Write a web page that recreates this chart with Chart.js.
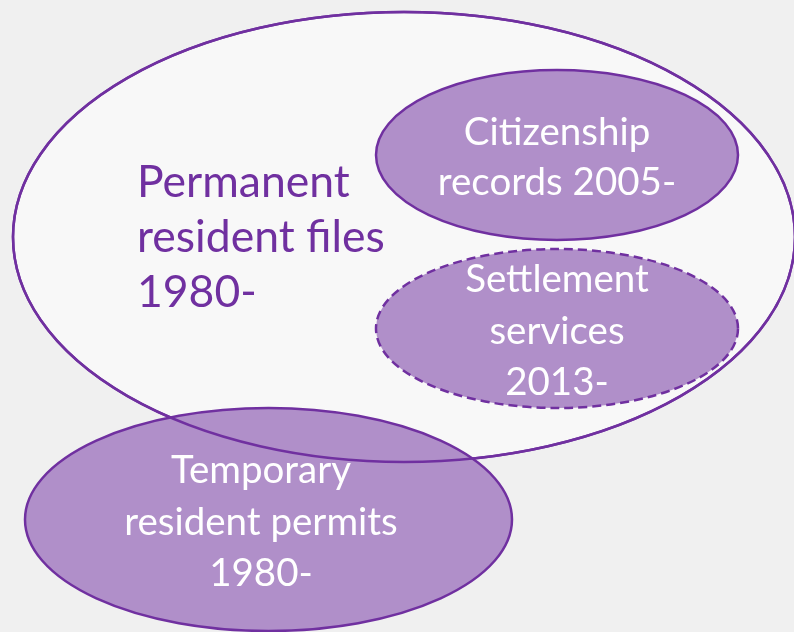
<!DOCTYPE html>
<html>
<head>
<meta charset="utf-8">
<script src="https://cdn.jsdelivr.net/npm/chart.js@4/dist/chart.umd.min.js"></script>
<style>
  html, body { margin: 0; padding: 0; background: #f0f0f0; }
  #wrap { width: 794px; height: 632px; }
</style>
</head>
<body>
<div id="wrap"><canvas id="c" width="794" height="632"></canvas></div>
<script>
// Sets (ellipses), in drawing order
const setNames = ['Permanent resident files', 'Citizenship records', 'Settlement services', 'Temporary resident permits'];
const centerX = [404, 557, 557, 268.5];
const centerY = [237, 155, 328.5, 519.5];
const radiusX = [391, 181, 181, 243.5];
const radiusY = [225, 85, 79.5, 111.5];
const dashed = [false, false, true, false];
const filled = [false, true, true, true];
// Label lines per set, anchor and alignment
const labelLines = [
  ['Permanent', 'resident files', '1980-'],
  ['Citizenship', 'records 2005-'],
  ['Settlement', 'services', '2013-'],
  ['Temporary', 'resident permits', '1980-']
];
const labelX = [137, 557, 557, 261];
const labelFirstBaseline = [197, 145, 292, 483];

const PURPLE = '#7030A0';
const LILAC = '#B08FC9';
const PALE = '#F8F8F8';

const ellipsePlugin = {
  id: 'ellipses',
  afterDatasetsDraw(chart) {
    const ctx = chart.ctx;
    const xs = chart.scales.x, ys = chart.scales.y;
    const geo = centerX.map((cx, i) => {
      const px = xs.getPixelForValue(cx);
      const py = ys.getPixelForValue(centerY[i]);
      const rx = Math.abs(xs.getPixelForValue(cx + radiusX[i]) - px);
      const ry = Math.abs(ys.getPixelForValue(centerY[i] + radiusY[i]) - py);
      return { px, py, rx, ry };
    });
    const path = (g) => { ctx.beginPath(); ctx.ellipse(g.px, g.py, g.rx, g.ry, 0, 0, Math.PI * 2); };
    const stroke = (i) => {
      ctx.save();
      ctx.lineWidth = 2.5;
      ctx.strokeStyle = PURPLE;
      ctx.setLineDash(dashed[i] ? [9, 5] : []);
      path(geo[i]);
      ctx.stroke();
      ctx.restore();
    };
    ctx.save();
    geo.forEach((g, i) => {
      path(g);
      ctx.fillStyle = filled[i] ? LILAC : PALE;
      ctx.fill();
      stroke(i);
    });
    // outline of the large set shows over the overlapping set
    stroke(0);

    // labels
    ctx.textBaseline = 'alphabetic';
    labelLines.forEach((lines, i) => {
      const big = i === 0;
      ctx.font = big ? '44.5px Lato' : '38.5px Lato';
      ctx.fillStyle = big ? PURPLE : '#FFFFFF';
      ctx.textAlign = big ? 'left' : 'center';
      const step = big ? 55 : (i === 1 ? 50 : 51.5);
      lines.forEach((t, k) => {
        const lx = xs.getPixelForValue(labelX[i]);
        const ly = ys.getPixelForValue(labelFirstBaseline[i] + k * step);
        ctx.fillText(t, lx, ly);
      });
    });
    ctx.restore();
  }
};

new Chart(document.getElementById('c'), {
  type: 'scatter',
  data: {
    datasets: [{
      label: 'Sets',
      data: centerX.map((x, i) => ({ x, y: centerY[i] })),
      pointRadius: 0,
      pointHoverRadius: 0
    }]
  },
  options: {
    responsive: false,
    animation: false,
    devicePixelRatio: 1,
    layout: { padding: 0 },
    plugins: { legend: { display: false }, tooltip: { enabled: false } },
    scales: {
      x: { type: 'linear', min: 0, max: 794, display: false },
      y: { type: 'linear', min: 0, max: 632, reverse: true, display: false }
    }
  },
  plugins: [ellipsePlugin]
});
</script>
</body>
</html>
